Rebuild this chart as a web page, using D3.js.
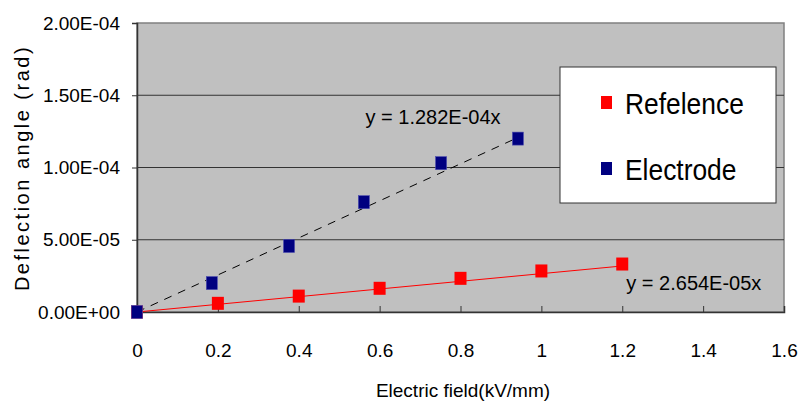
<!DOCTYPE html>
<html lang="en">
<head>
<meta charset="utf-8">
<title>Deflection angle vs electric field</title>
<script src="https://d3js.org/d3.v7.min.js"></script>
<style>
    body { margin: 0; background: #fff; }
    #chart1 { width: 798px; height: 403px; }
    text { font-family: "Liberation Sans", Arial, sans-serif; fill: #000; }
</style>
</head>
<body>
<div id="chart1"></div>
<script>
    // data
    const refX = [0, 0.2, 0.4, 0.6, 0.8, 1.0, 1.2]
    const refY = [0, 6.0e-6, 1.1e-5, 1.64e-5, 2.33e-5, 2.84e-5, 3.32e-5]
    const eleX = [0, 0.185, 0.376, 0.561, 0.752, 0.942]
    const eleY = [0, 2.0e-5, 4.57e-5, 7.6e-5, 1.03e-4, 1.20e-4]

    const refSlope = 2.654e-5
    const eleSlope = 1.282e-4
    const refFitX = [0, 1.2]
    const eleFitX = [0, 0.942]

    const xTicks = [0, 0.2, 0.4, 0.6, 0.8, 1, 1.2, 1.4, 1.6]
    const yTicks = [0, 5e-5, 1e-4, 1.5e-4, 2e-4]
    const legendNames = ["Refelence", "Electrode"]
    const colors = ["#ff0000", "#000080"]

    const margin = {top: 23, right: 14, bottom: 91, left: 137}
    const width = 798 - margin.left - margin.right
    const height = 403 - margin.top - margin.bottom

    const svg = d3.select("#chart1").append("svg")
        .attr("width", 798).attr("height", 403)

    const g = svg.append("g")
        .attr("transform", "translate(" + margin.left + "," + margin.top + ")")

    const x = d3.scaleLinear().domain([0, 1.6]).range([0, width])
    const y = d3.scaleLinear().domain([0, 2e-4]).range([height, 0])

    // plot background
    g.append("rect")
        .attr("width", width).attr("height", height)
        .attr("fill", "#c0c0c0")
        .attr("stroke", "#808080").attr("stroke-width", 1.5)

    // gridlines
    g.selectAll(".grid").data(yTicks.slice(1, -1)).enter().append("line")
        .attr("x1", 0).attr("x2", width)
        .attr("y1", d => y(d)).attr("y2", d => y(d))
        .attr("stroke", "#333").attr("stroke-width", 1)

    const fmtE = function(v) {
        if (v === 0) return "0.00E+00"
        const e = Math.floor(Math.log10(Math.abs(v)) + 1e-9)
        const m = v / Math.pow(10, e)
        const sign = e < 0 ? "-" : "+"
        return m.toFixed(2) + "E" + sign + String(Math.abs(e)).padStart(2, "0")
    }

    // y axis
    const yAxis = g.append("g")
        .call(d3.axisLeft(y).tickValues(yTicks).tickFormat(fmtE).tickSize(5).tickPadding(12))
    yAxis.select(".domain").attr("stroke", "#333").attr("stroke-width", 1.5)
    yAxis.selectAll("line").attr("stroke", "#333")
    yAxis.selectAll("text").style("font-size", "19px")

    // x axis, ticks pointing inward
    const xAxis = g.append("g")
        .attr("transform", "translate(0," + height + ")")
        .call(d3.axisBottom(x).tickValues(xTicks).tickFormat(d3.format("")).tickSize(-6).tickPadding(32))
    xAxis.select(".domain").attr("stroke", "#333").attr("stroke-width", 1.5)
    xAxis.selectAll("line").attr("stroke", "#333")
    xAxis.selectAll("text").style("font-size", "19px")

    // trendlines
    const line = d3.line().x(d => x(d[0])).y(d => y(d[1]))
    g.append("path")
        .attr("d", line(refFitX.map(v => [v, v * refSlope])))
        .attr("fill", "none").attr("stroke", "#ff0000").attr("stroke-width", 1)
    g.append("path")
        .attr("d", line(eleFitX.map(v => [v, v * eleSlope])))
        .attr("fill", "none").attr("stroke", "#000").attr("stroke-width", 1)
        .attr("stroke-dasharray", "8,7")

    // markers
    const ms = 12
    g.selectAll(".ref").data(refX.map((v, i) => [v, refY[i]])).enter().append("rect")
        .attr("x", d => x(d[0]) - ms / 2).attr("y", d => y(d[1]) - ms / 2 - 0.5)
        .attr("width", ms).attr("height", ms + 1)
        .attr("fill", colors[0])
    g.selectAll(".ele").data(eleX.map((v, i) => [v, eleY[i]])).enter().append("rect")
        .attr("x", d => x(d[0]) - ms / 2 + 0.5).attr("y", d => y(d[1]) - ms / 2 - 0.5)
        .attr("width", ms - 1).attr("height", ms + 1)
        .attr("fill", colors[1]).attr("stroke", "#4a4ab0").attr("stroke-width", 0.6)

    // equation labels
    g.append("text").attr("x", x(0.565)).attr("y", y(1.3e-4))
        .style("font-size", "20px").text("y = 1.282E-04x")
    g.append("text").attr("x", x(1.21)).attr("y", y(1.55e-5))
        .style("font-size", "20px").text("y = 2.654E-05x")

    // legend
    const leg = svg.append("g").attr("transform", "translate(560,67)")
    leg.append("rect").attr("width", 216).attr("height", 136)
        .attr("fill", "#fff").attr("stroke", "#333").attr("stroke-width", 1)
    legendNames.forEach(function(name, i) {
        const row = leg.append("g").attr("transform", "translate(0," + (36 + i * 66) + ")")
        row.append("rect").attr("x", 41).attr("y", -7).attr("width", 11).attr("height", 13)
            .attr("fill", colors[i])
        row.append("text").attr("x", 65).attr("y", 11)
            .attr("transform", "translate(65,0) scale(0.91,1) translate(-65,0)")
            .style("font-size", "29px").text(name)
    })

    // axis titles
    svg.append("text")
        .attr("transform", "translate(29,168) rotate(-90)")
        .attr("text-anchor", "middle")
        .style("font-size", "20px").style("letter-spacing", "2.5px")
        .text("Deflection angle (rad)")
    svg.append("text")
        .attr("x", 463).attr("y", 397)
        .attr("text-anchor", "middle")
        .style("font-size", "19px")
        .text("Electric field(kV/mm)")
</script>
</body>
</html>
